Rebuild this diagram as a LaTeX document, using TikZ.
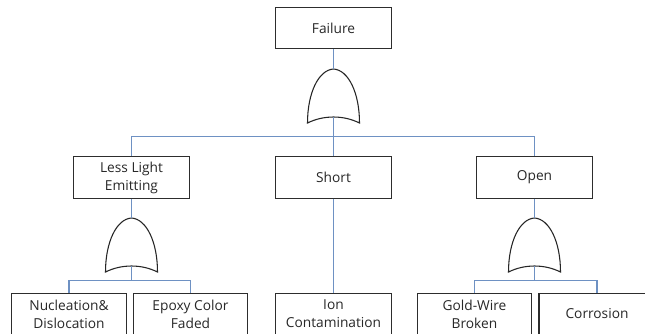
\documentclass[tikz,border=0pt]{standalone}
\usepackage{fontspec}
\setmainfont{Open Sans}
\definecolor{linkblue}{RGB}{110,145,195}
\definecolor{boxgray}{RGB}{45,45,45}
\definecolor{textgray}{RGB}{40,40,40}
\newcommand{\orgate}[3]{%
  \coordinate (#1-top) at (#2,#3);
  \coordinate (#1-bot) at (#2,#3+48);
  \draw[gate] (#2,#3) .. controls (#2-15,#3+1) and (#2-26,#3+24) .. (#2-26,#3+54)
    .. controls (#2-10,#3+46) and (#2+10,#3+46) .. (#2+26,#3+54)
    .. controls (#2+26,#3+24) and (#2+15,#3+1) .. (#2,#3);
}
\begin{document}
\begin{tikzpicture}[x=0.75pt,y=-0.75pt,
  box/.style={draw=boxgray, line width=0.8pt, minimum width=87pt, minimum height=31pt,
    align=center, inner sep=0pt, text=textgray,
    font=\fontsize{10.3pt}{13.5pt}\selectfont},
  link/.style={draw=linkblue, line width=0.8pt},
  gate/.style={draw=black!85, line width=0.8pt}]
\useasboundingbox (0,0) rectangle (645,333);
\clip (0,0) rectangle (645,333);
\fill[white] (0,0) rectangle (645,333);
% level 0
\node[box] (fail) at (333.5,28) {Failure};
% level 1
\node[box] (less) at (131.5,177.5) {Less Light\\Emitting};
\node[box] (short) at (333.5,177.5) {Short};
\node[box] (open) at (534.5,177.5) {Open};
% level 2
\node[box, minimum width=86pt] (nuc) at (69,314) {Nucleation\&\\Dislocation};
\node[box, minimum width=86pt] (epo) at (190.5,314) {Epoxy Color\\Faded};
\node[box] (ion) at (333.5,314) {Ion\\Contamination};
\node[box, minimum width=86pt] (gold) at (474.5,314) {Gold-Wire\\Broken};
\node[box] (corr) at (597,314) {Corrosion};
% gates
\orgate{g1}{333.5}{69}
\orgate{g2}{131.5}{218}
\orgate{g3}{534.5}{218}
% connectors top
\draw[link] (fail.south) -- (g1-top);
\draw[link] (less.north) -- ++(0,-20) -| (open.north);
\draw[link] (g1-bot) -- (short.north);
% left branch
\draw[link] (less.south) -- (g2-top);
\draw[link] (nuc.north) -- ++(0,-12) coordinate (b2) -| (epo.north);
\draw[link] (g2-bot) -- (g2-bot |- b2);
% middle branch
\draw[link] (short.south) -- (ion.north);
% right branch
\draw[link] (open.south) -- (g3-top);
\draw[link] (gold.north) -- ++(0,-12) coordinate (b3) -| (corr.north);
\draw[link] (g3-bot) -- (g3-bot |- b3);
\end{tikzpicture}
\end{document}
